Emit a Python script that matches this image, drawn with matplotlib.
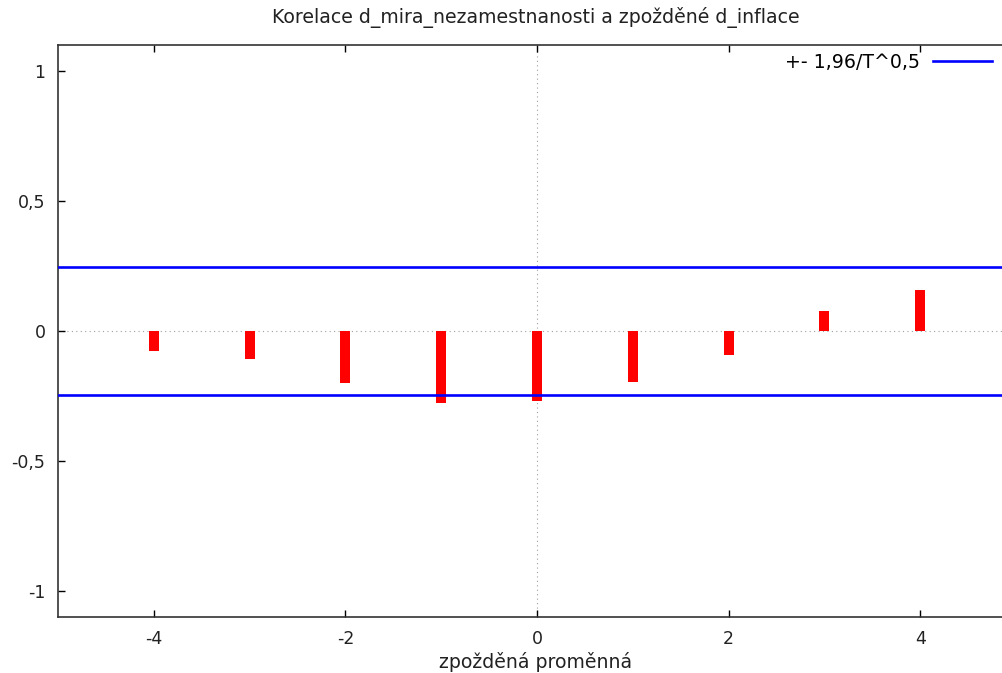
# -*- coding: utf-8 -*-
# korelace d_mira_nezamestnanosti a zpozdene d_inflace (gretl/gnuplot look)
import numpy as np
import matplotlib
matplotlib.use("Agg")
from matplotlib import pyplot as plt
from matplotlib.ticker import FuncFormatter

# data
lags = [-4, -3, -2, -1, 0, 1, 2, 3, 4]
corr = [-0.076, -0.108, -0.200, -0.278, -0.270, -0.196, -0.092, 0.077, 0.158]
band = 0.246  # 1.96/sqrt(T)
title = "Korelace d_mira_nezamestnanosti a zpožděné d_inflace"
xlabel = "zpožděná proměnná"
legend_label = "+- 1,96/T^0,5"
xticks = [-4, -2, 0, 2, 4]
yticks = [-1, -0.5, 0, 0.5, 1]

plt.rcParams['font.family'] = ['DejaVu Sans']
fs = 12.5      # tick labels
fs_txt = 13.6  # title, axis label, legend (verdana in original is a bit wider)

W, H = 1003, 673
fig = plt.figure(figsize=(W / 100, H / 100), dpi=100)
# plot area is wider than the image, right edge cut off like in the original
ax = fig.add_axes([58 / W, 56 / H, 958 / W, 572 / H])
ax.set_xlim(-5, 5)
ax.set_ylim(-1.1, 1.1)

ax.axhline(0, color='#a0a0a0', lw=0.8, ls=(0, (1, 3)), zorder=1)
ax.axvline(0, color='#a0a0a0', lw=0.8, ls=(0, (1, 3)), zorder=1)

ax.bar(lags, corr, width=0.105, color='#ff0000', zorder=2)
line, = ax.plot([-5, 5], [band, band], color='#0000ff', lw=1.9, zorder=3)
ax.plot([-5, 5], [-band, -band], color='#0000ff', lw=1.9, zorder=3)

ax.set_xticks(xticks)
ax.set_yticks(yticks)
fmt = FuncFormatter(lambda v, p: ('%g' % v).replace('.', ','))
ax.xaxis.set_major_formatter(fmt)
ax.yaxis.set_major_formatter(fmt)
ax.tick_params(direction='in', length=5, width=1, top=True, right=True,
               pad=9, colors='#000000', labelcolor='#222222', labelsize=fs)
for s in ax.spines.values():
    s.set_linewidth(1.2)
    s.set_color('#333333')

fig.text(536 / W, 1 - 18 / H, title, ha='center', va='center', fontsize=fs_txt, color='#222222')
fig.text(536 / W, 1 - 662 / H, xlabel, ha='center', va='center', fontsize=fs_txt, color='#222222')

fig.legend([line], [legend_label], loc='center right', bbox_to_anchor=(992 / W, 1 - 62 / H),
           frameon=False, markerfirst=False, handlelength=3.1, handletextpad=0.7,
           fontsize=fs_txt, borderaxespad=0, borderpad=0)

fig.savefig("out.png", dpi=100)
